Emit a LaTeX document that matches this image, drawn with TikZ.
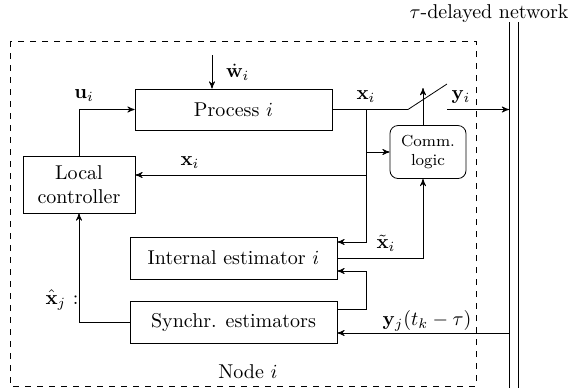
\documentclass[tikz,border=0pt]{standalone}
\usetikzlibrary{arrows,positioning}

\begin{document}
\begin{tikzpicture}[x=0.5pt,y=-0.5pt,
      block/.style={rectangle, draw=black, inner sep=2pt, align=center}, pfeil/.style={->,>=stealth'}]
\useasboundingbox (0,0) rectangle (574,388);

\draw[dashed] (10,41) rectangle (476,386);
\node (net) at (489,14) {$\tau$-delayed network};
\node (nd) at (248,372) {Node $i$};

\node[block,minimum width=98.5pt,minimum height=20.5pt] (proc) at (233.5,109.5) {Process $i$};
\node[block,minimum width=56pt,minimum height=28.5pt] (ctrl) at (79,184.5) {Local\\controller};
\node[block,rounded corners,minimum width=38pt,minimum height=26.5pt,font=\footnotesize] (comm) at (428,152) {Comm.\\logic};
\node[block,minimum width=103.5pt,minimum height=21pt] (int) at (233.5,258) {Internal estimator $i$};
\node[block,minimum width=103.5pt,minimum height=21pt] (syn) at (233.5,322) {Synchr. estimators};

\coordinate (n1) at (509,22);
\coordinate (n2) at (518,22);
\coordinate (w) at (212,55);
\coordinate (br) at (366,109.5);
\coordinate (sw1) at (408,109.5);
\coordinate (sw2) at (447,84);
\coordinate (sw3) at (447,109.5);
\coordinate (up) at (423,88);
\coordinate (xl) at (366,175);
\coordinate (xt) at (366,242);
\coordinate (sr) at (366,271);
\coordinate (yj) at (509,333);

\draw (n1) -- (n1 |- 0,388);
\draw (n2) -- (n2 |- 0,388);

\draw[pfeil] (w) -- (w |- proc.north);
\draw[pfeil] (ctrl.north) |- (proc.west);
\draw (proc.east) -- (sw1) -- (sw2);
\draw[pfeil] (sw3) -- (sw3 -| n1);
\draw[pfeil] (up |- comm.north) -- (up);
\draw[pfeil] (br) |- (xt -| int.east);
\draw[pfeil] (br |- comm.west) -- (comm.west);
\draw[pfeil] (xl) -- (xl -| ctrl.east);
\draw[pfeil] (int.east) -| (up |- comm.south);
\draw[pfeil] (syn.east |- 0,309) -| (sr) -- (sr -| int.east);
\draw[pfeil] (yj) -- (yj -| syn.east);
\draw[pfeil] (syn.west) -| (ctrl.south);

\node[anchor=west] (lw) at (219,72) {$\dot{\mathbf{w}}_i$};
\node (lu) at (84,96) {$\mathbf{u}_i$};
\node (lx1) at (366,97) {$\mathbf{x}_i$};
\node (ly) at (461,97) {$\mathbf{y}_i$};
\node (lx2) at (190,163) {$\mathbf{x}_i$};
\node (lxt) at (386,243) {$\tilde{\mathbf{x}}_i$};
\node (lyj) at (427,321) {$\mathbf{y}_j(t_k-\tau)$};
\node (lxh) at (62,300) {$\hat{\mathbf{x}}_j$ :};

\end{tikzpicture}
\end{document}
